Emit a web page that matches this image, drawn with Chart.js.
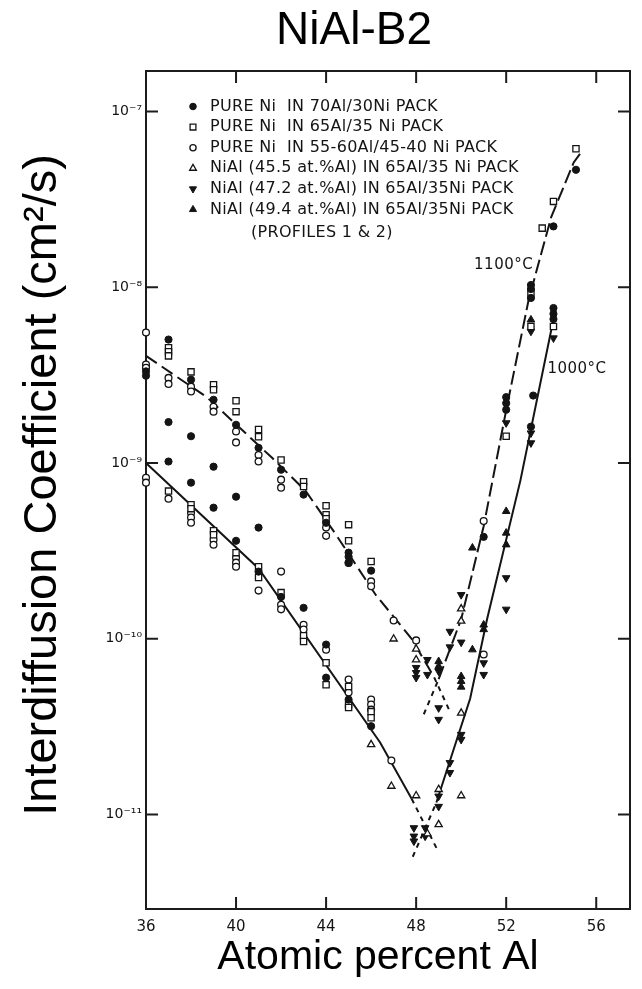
<!DOCTYPE html>
<html>
<head>
<meta charset="utf-8">
<title>NiAl-B2</title>
<script src="https://cdn.jsdelivr.net/npm/chart.js@4.4.1/dist/chart.umd.min.js"></script>
<style>
  html, body { margin: 0; padding: 0; background: #fff; }
  #wrap { width: 642px; height: 989px; }
</style>
</head>
<body>
<div id="wrap"><canvas id="chart" width="642" height="989"></canvas></div>
<script>
// axis ticks
const atPctTicks = [36, 40, 44, 48, 52, 56];
const decadeTicks = [1e-11, 1e-10, 1e-9, 1e-8, 1e-7];
const decadeLabels = ['10⁻¹¹', '10⁻¹⁰', '10⁻⁹', '10⁻⁸', '10⁻⁷'];

const seriesLabels = [
  'PURE Ni  IN 70Al/30Ni PACK',
  'PURE Ni  IN 65Al/35 Ni PACK',
  'PURE Ni  IN 55-60Al/45-40 Ni PACK',
  'NiAl (45.5 at.%Al) IN 65Al/35 Ni PACK',
  'NiAl (47.2 at.%Al) IN 65Al/35Ni PACK',
  'NiAl (49.4 at.%Al) IN 65Al/35Ni PACK'
];

// [at.% Al, D (cm2/s)]
const pureNi70 = [
  [36, 3.32e-9], [36, 3.14e-9], [37, 5.04e-9], [38, 2.98e-9], [39, 2.29e-9], [40, 1.65e-9],
  [41, 1.22e-9], [42, 9.16e-10], [43, 6.61e-10], [44, 4.57e-10], [45, 3.09e-10], [45, 2.93e-10],
  [45, 2.71e-10], [46, 2.44e-10],
  [37, 1.71e-9], [38, 1.42e-9], [37, 1.02e-9], [39, 9.53e-10], [38, 7.73e-10], [40, 6.43e-10],
  [39, 5.57e-10], [41, 4.29e-10], [40, 3.61e-10], [41, 2.41e-10], [42, 1.73e-10], [43, 1.50e-10],
  [44, 9.27e-11], [44, 6.01e-11], [45, 4.51e-11], [46, 3.18e-11],
  [55.1, 4.66e-8], [54.1, 2.22e-8], [53.1, 1.03e-8], [53.1, 9.77e-9], [53.1, 8.69e-9],
  [54.1, 7.62e-9], [54.1, 7.06e-9], [54.1, 6.59e-9], [52, 2.37e-9], [52, 2.19e-9], [52, 2.01e-9],
  [53.2, 2.42e-9], [53.1, 1.61e-9], [51, 3.80e-10]
];
const pureNi65 = [
  [37, 4.53e-9], [37, 4.30e-9], [37, 4.07e-9], [38, 3.30e-9], [39, 2.79e-9], [39, 2.61e-9],
  [40, 2.26e-9], [40, 1.96e-9], [41, 1.55e-9], [41, 1.41e-9], [42, 1.04e-9], [43, 7.83e-10],
  [43, 7.35e-10], [44, 5.71e-10], [44, 5.08e-10], [44, 4.82e-10], [45, 4.46e-10], [45, 3.61e-10],
  [46, 2.75e-10],
  [55.1, 6.14e-8], [54.1, 3.08e-8], [53.6, 2.17e-8], [53.1, 9.27e-9], [53.1, 5.98e-9],
  [54.1, 5.98e-9], [52, 1.42e-9],
  [37, 6.92e-10], [38, 5.79e-10], [38, 5.50e-10], [39, 4.12e-10], [39, 3.91e-10], [40, 3.09e-10],
  [41, 2.57e-10], [41, 2.23e-10], [42, 1.83e-10], [43, 1.04e-10], [43, 9.64e-11], [44, 7.31e-11],
  [44, 5.48e-11], [45, 5.35e-11], [45, 4.23e-11], [45, 4.06e-11], [46, 3.85e-11], [46, 3.55e-11]
];
const pureNi55 = [
  [36, 5.53e-9], [36, 3.63e-9], [36, 3.48e-9], [37, 3.05e-9], [37, 2.82e-9], [38, 2.72e-9],
  [38, 2.55e-9], [39, 2.09e-9], [39, 1.96e-9], [40, 1.51e-9], [40, 1.31e-9], [41, 1.11e-9],
  [41, 1.02e-9], [42, 8.04e-10], [42, 7.24e-10], [44, 4.29e-10], [44, 3.85e-10], [45, 2.70e-10],
  [46, 2.12e-10], [46, 1.99e-10], [47, 1.27e-10], [48, 9.79e-11], [51, 4.68e-10],
  [36, 8.24e-10], [36, 7.73e-10], [37, 6.27e-10], [38, 5.21e-10], [38, 4.89e-10], [38, 4.57e-10],
  [39, 3.66e-10], [39, 3.43e-10], [40, 2.89e-10], [40, 2.71e-10], [40, 2.57e-10], [41, 1.88e-10],
  [42, 2.41e-10], [42, 1.56e-10], [42, 1.47e-10], [43, 1.20e-10], [43, 1.13e-10], [44, 8.67e-11],
  [45, 5.86e-11], [45, 4.94e-11], [46, 4.51e-11], [46, 4.23e-11], [46, 3.95e-11], [46.9, 2.03e-11],
  [51, 8.13e-11]
];
const nial455 = [
  [47, 9.98e-11], [48, 8.75e-11], [48, 7.60e-11], [50, 1.48e-10], [50, 1.26e-10], [50, 3.78e-11],
  [46, 2.50e-11], [46.9, 1.45e-11], [48, 1.28e-11], [49, 1.39e-11], [50, 1.28e-11],
  [48.5, 7.78e-12], [49, 8.77e-12]
];
const nial472 = [
  [48, 6.85e-11], [48, 6.41e-11], [48, 6.01e-11], [48.5, 7.60e-11], [48.5, 6.25e-11], [49, 6.53e-11],
  [49, 4.04e-11], [49, 3.47e-11], [50, 1.78e-10], [49.5, 1.10e-10], [49.5, 8.97e-11], [50, 9.55e-11],
  [52, 2.22e-10], [52, 1.47e-10], [51, 7.28e-11], [51, 6.25e-11], [50, 2.85e-11], [50, 2.67e-11],
  [49.5, 1.97e-11], [49.5, 1.73e-11], [49, 1.27e-11], [49, 1.11e-11], [47.9, 8.39e-12],
  [47.9, 7.52e-12], [47.9, 7.05e-12], [48.4, 8.39e-12], [48.4, 7.52e-12],
  [53.1, 5.61e-9], [54.1, 5.14e-9], [52, 1.69e-9], [53.1, 1.48e-9], [53.1, 1.30e-9]
];
const nial494 = [
  [49, 7.43e-11], [49, 6.97e-11], [50, 6.11e-11], [50, 5.73e-11], [50, 5.32e-11], [50.5, 8.67e-11],
  [51, 1.20e-10], [51, 1.13e-10], [53.1, 6.53e-9], [52, 5.31e-10], [50.5, 3.29e-10],
  [52, 4.00e-10], [52, 3.43e-10]
];

// drawn fit lines
const fit1100Left = [[36, 4.07e-9], [38.7, 2.37e-9], [41.6, 1.07e-9], [43.1, 6.92e-10], [44.4, 3.98e-10], [46.2, 1.78e-10], [47.8, 1.0e-10], [48.8, 6.03e-11]];
const ext1100Left = [[48.8, 6.03e-11], [49.45, 3.98e-11]];
const fit1100Right = [[49.0, 5.89e-11], [50.0, 1.29e-10], [51.0, 4.37e-10], [52.0, 2.0e-9], [53.0, 8.51e-9], [54.0, 2.51e-8], [55.0, 5.13e-8], [55.4, 6.03e-8]];
const ext1100Right = [[48.34, 3.72e-11], [49.0, 5.89e-11]];
const fit1000Left = [[36, 1.0e-9], [41, 2.51e-10], [46.4, 2.57e-11], [47.8, 1.23e-11]];
const ext1000Left = [[47.8, 1.23e-11], [48.9, 6.46e-12]];
const fit1000Right = [[48.9, 1.17e-11], [50.4, 4.57e-11], [51.15, 1.29e-10], [52.63, 7.94e-10], [54.2, 7.59e-9]];
const ext1000Right = [[47.85, 5.75e-12], [48.9, 1.17e-11]];

const tempLabels = [
  {text: '1100°C', x: 53.2, y: 1.34e-8, align: 'right'},
  {text: '1000°C', x: 53.83, y: 3.44e-9, align: 'left'}
];

const toXY = arr => arr.map(p => ({x: p[0], y: p[1]}));
const INK = '#141414';
const SANS = '"Liberation Sans", Arial, sans-serif';

function markers (label, data, style) {
  return Object.assign({
    label: label,
    data: toXY(data),
    inLegend: true,
    clip: false,
    borderColor: INK,
    showLine: false
  }, style);
}

function fitLine (data, dash) {
  return {
    type: 'line',
    data: toXY(data),
    borderColor: INK,
    borderWidth: 2,
    borderDash: dash,
    pointRadius: 0,
    fill: false,
    tension: 0,
    clip: false
  };
}

const frameAndTicks = {
  id: 'frameAndTicks',
  beforeDatasetsDraw (chart) {
    const {ctx, chartArea: a, scales: {x, y}} = chart;
    ctx.save();
    ctx.strokeStyle = '#1c1c1c';
    ctx.lineWidth = 2;
    ctx.strokeRect(a.left, a.top, a.width, a.height);
    ctx.beginPath();
    x.ticks.forEach(t => {
      const px = x.getPixelForValue(t.value);
      if (px <= a.left + 2 || px >= a.right - 2) return;
      ctx.moveTo(px, a.bottom); ctx.lineTo(px, a.bottom - 12);
      ctx.moveTo(px, a.top); ctx.lineTo(px, a.top + 12);
    });
    y.ticks.forEach(t => {
      const py = y.getPixelForValue(t.value);
      ctx.moveTo(a.left, py); ctx.lineTo(a.left + 12, py);
      ctx.moveTo(a.right, py); ctx.lineTo(a.right - 12, py);
    });
    ctx.stroke();
    ctx.restore();
  }
};

const insideLegend = {
  id: 'insideLegend',
  afterDatasetsDraw (chart) {
    const {ctx, chartArea: a} = chart;
    const x0 = a.left + 47, y0 = a.top + 35.5, step = 20.6;
    ctx.save();
    ctx.font = '16px "DejaVu Sans"';
    ctx.letterSpacing = '0.3px';
    ctx.textBaseline = 'middle';
    ctx.textAlign = 'left';
    let row = 0;
    chart.data.datasets.forEach(ds => {
      if (!ds.inLegend) return;
      const y = y0 + row * step;
      ctx.fillStyle = ds.backgroundColor;
      ctx.strokeStyle = INK;
      ctx.lineWidth = ds.borderWidth;
      Chart.helpers.drawPoint(ctx, {
        pointStyle: ds.pointStyle,
        rotation: ds.rotation || 0,
        radius: ds.pointRadius - 0.3,
        borderWidth: ds.borderWidth
      }, x0, y);
      ctx.fillStyle = INK;
      ctx.fillText(ds.label, x0 + 17, y);
      row++;
    });
    ctx.fillText('(PROFILES 1 & 2)', x0 + 58, y0 + row * step + 3);
    ctx.restore();
  }
};

const captions = {
  id: 'captions',
  afterDraw (chart) {
    const {ctx, scales: {x, y}} = chart;
    ctx.save();
    ctx.fillStyle = '#000';
    ctx.textBaseline = 'middle';
    ctx.textAlign = 'center';
    ctx.font = '46px ' + SANS;
    ctx.fillText('NiAl-B2', 354, 31);
    ctx.font = '41px ' + SANS;
    ctx.fillText('Atomic percent Al', 378, 958);
    ctx.save();
    ctx.translate(43, 485);
    ctx.rotate(-Math.PI / 2);
    ctx.font = '47px ' + SANS;
    ctx.fillText('Interdiffusion Coefficient (cm²/s)', 0, 0);
    ctx.restore();
    ctx.font = '15px "DejaVu Sans"';
    ctx.letterSpacing = '0.5px';
    ctx.fillStyle = INK;
    tempLabels.forEach(l => {
      ctx.textAlign = l.align;
      ctx.fillText(l.text, x.getPixelForValue(l.x), y.getPixelForValue(l.y));
    });
    ctx.restore();
  }
};

new Chart(document.getElementById('chart'), {
  type: 'scatter',
  data: {
    datasets: [
      markers(seriesLabels[0], pureNi70, {pointStyle: 'circle', pointRadius: 3.6, backgroundColor: INK, borderWidth: 1}),
      markers(seriesLabels[1], pureNi65, {pointStyle: 'rect', pointRadius: 4.4, backgroundColor: '#fff', borderWidth: 1.3}),
      markers(seriesLabels[2], pureNi55, {pointStyle: 'circle', pointRadius: 3.4, backgroundColor: '#fff', borderWidth: 1.3}),
      markers(seriesLabels[3], nial455, {pointStyle: 'triangle', pointRadius: 4.2, backgroundColor: '#fff', borderWidth: 1.3}),
      markers(seriesLabels[4], nial472, {pointStyle: 'triangle', rotation: 180, pointRadius: 4.4, backgroundColor: INK, borderWidth: 1}),
      markers(seriesLabels[5], nial494, {pointStyle: 'triangle', pointRadius: 4.4, backgroundColor: INK, borderWidth: 1}),
      fitLine(fit1100Left, [13, 6]),
      fitLine(ext1100Left, [5, 5]),
      fitLine(fit1100Right, [14, 5]),
      fitLine(ext1100Right, [5, 5]),
      fitLine(fit1000Left, []),
      fitLine(ext1000Left, [5, 5]),
      fitLine(fit1000Right, []),
      fitLine(ext1000Right, [5, 5])
    ]
  },
  options: {
    responsive: false,
    animation: false,
    devicePixelRatio: 1,
    layout: {padding: {top: 71, right: 12, bottom: 0, left: 0}},
    plugins: {
      legend: {display: false},
      tooltip: {enabled: false},
      title: {display: false}
    },
    scales: {
      x: {
        type: 'linear',
        min: 36,
        max: 57.5,
        afterBuildTicks: s => { s.ticks = atPctTicks.map(v => ({value: v})); },
        afterFit: s => { s.height = 80; },
        grid: {display: false, drawTicks: false},
        border: {display: false},
        ticks: {
          padding: 9,
          color: INK,
          font: {family: '"DejaVu Sans"', size: 15}
        }
      },
      y: {
        type: 'logarithmic',
        min: 2.9e-12,
        max: 1.7e-7,
        afterBuildTicks: s => { s.ticks = decadeTicks.map(v => ({value: v})); },
        afterFit: s => { s.width = 146; },
        grid: {display: false, drawTicks: false},
        border: {display: false},
        ticks: {
          padding: 4,
          color: INK,
          font: {family: '"DejaVu Sans"', size: 14},
          callback: (v, i) => decadeLabels[i]
        }
      }
    }
  },
  plugins: [frameAndTicks, insideLegend, captions]
});
</script>
</body>
</html>
